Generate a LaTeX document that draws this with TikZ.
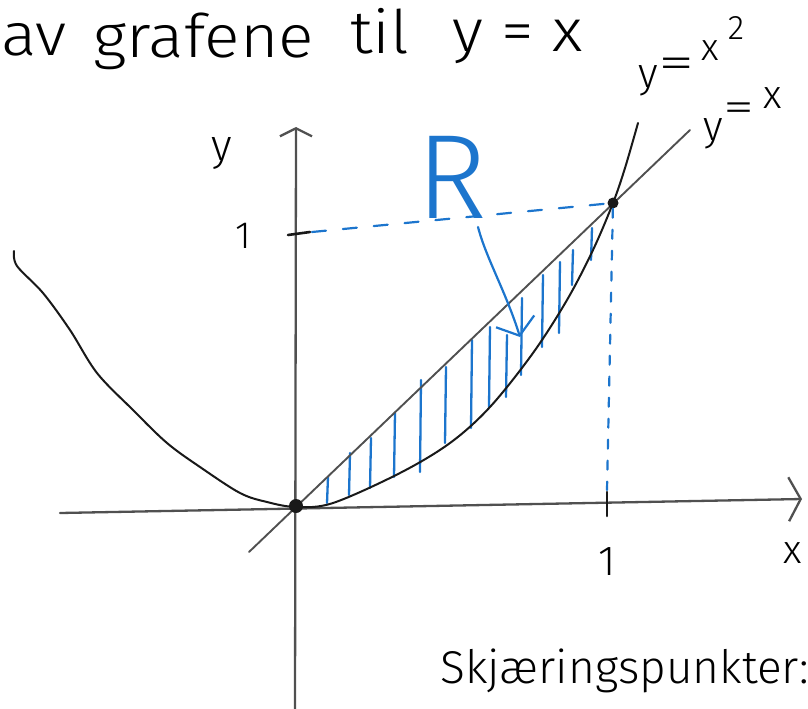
\documentclass[tikz,border=0pt]{standalone}
\usepackage{fontspec}
\newfontfamily\hand{Fira Sans Light}
\usetikzlibrary{arrows.meta}
\definecolor{pen}{RGB}{28,117,205}
\definecolor{ink}{RGB}{25,25,25}
\definecolor{axisgray}{RGB}{80,80,80}
\begin{document}
\begin{tikzpicture}[x=1pt,y=-1pt,
  lbl/.style={font={\hand\fontsize{#1}{#1}\selectfont}, inner sep=0pt},
  axisline/.style={draw=axisgray, line width=2.3pt, line cap=round},
  curve/.style={draw=ink, line width=2pt, line cap=round, line join=round},
  penline/.style={draw=pen, line width=2.2pt, line cap=round},
  pendash/.style={penline, dash pattern=on 14pt off 17pt},
  pendashv/.style={penline, dash pattern=on 9pt off 12pt},
  hatch/.style={draw=pen, line width=2.3pt, line cap=round},
  dot/.style={circle, fill=ink, inner sep=0pt, minimum size=#1}]
\useasboundingbox (0,0) rectangle (808,709);
\clip (0,0) rectangle (808,709);

% axes
\coordinate (xl) at (60,513);
\coordinate (xr) at (802,499);
\coordinate (yb) at (295,712);
\coordinate (yt) at (296,127);
\draw[axisline, -{Straight Barb[length=12pt,width=44pt,line width=2.3pt]}] (xl) -- (xr);
\draw[axisline, -{Straight Barb[length=8pt,width=32pt,line width=2.3pt]}] (yb) -- (yt);

% ticks
\coordinate (ty1) at (288,235);
\coordinate (ty2) at (310,232);
\coordinate (tx1) at (607,492);
\coordinate (tx2) at (607,516);
\draw[curve, line width=2.6pt] (ty1) -- (ty2);
\draw[curve, line width=2.6pt] (tx1) -- (tx2);

% hatch (region R)
\foreach \hx/\ha/\hb in {328/477/503, 350/453/495, 371/438/488, 395/413/477,
  421/380/472, 446/367/443, 472/340/428, 490/327/407, 507/335/397,
  522/298/375, 543/275/347, 560/262/333, 573/250/285, 592/228/260}
  \draw[hatch] (\hx,\ha) -- (\hx-1,\hb);

% line y = x
\coordinate (L1) at (249,552);
\coordinate (L2) at (690,130);
\draw[draw=axisgray, line width=1.9pt, line cap=round] (L1) -- (L2);

% parabola y = x^2
\draw[curve] plot[smooth, tension=0.55] coordinates {
  (14,251) (17,266) (43,293) (70,330) (97,373) (133,410) (167,443) (200,467)
  (240,493) (267,502) (296,507) (333,503) (400,473) (450,443) (490,407)
  (533,353) (567,300) (593,250) (613,203) (625,168) (638,123)};

% points
\node[dot=14pt] (O) at (296,506) {};
\node[dot=11pt] (P) at (613,203) {};

% dashed guides
\coordinate (D1) at (312,232);
\coordinate (D2) at (607,490);
\draw[pendash] (D1) -- (P);
\draw[pendashv] (P) -- (D2);

% labels on axes
\node[lbl=44, anchor=base] (ylab) at (222,160) {y};
\node[lbl=38, anchor=base] (one1) at (243,248) {1};
\node[lbl=42, anchor=base] (one2) at (607,575) {1};
\node[lbl=40, anchor=base] (xlab) at (793,563) {x};

% R and its arrow
\node[lbl=120, text=pen, anchor=center] (R) at (452,177) {R};
\coordinate (Rs) at (478,227);
\coordinate (Rt) at (520,337);
\draw[penline, -{Straight Barb[length=15pt,width=40pt,line width=2.2pt]}]
  (Rs) .. controls (486,258) and (506,292) .. (Rt);

% curve labels (handwritten along a slope)
\node[lbl=42, anchor=base] (pa) at (648,88) {y};
\node[lbl=46, xscale=1.6] (pb) at (677,68) {=};
\node[lbl=38, anchor=base] (pc) at (710,60) {x};
\node[lbl=34] (pd) at (736,28) {2};
\node[lbl=42, anchor=base] (la) at (713,140) {y};
\node[lbl=42, xscale=1.5] (lb) at (739,112) {=};
\node[lbl=40, anchor=base] (lc) at (773,108) {x};

% top text
\node[lbl=60, xscale=1.1, anchor=base west] (w1) at (1,56) {av};
\node[lbl=60, xscale=1.1, anchor=base west] (w2) at (93,57) {grafene};
\node[lbl=60, xscale=1.1, anchor=base west] (w3) at (350,53) {til};
\node[lbl=60, xscale=1.1, anchor=base west] (w4) at (452,52) {y = x};

% bottom text
\node[lbl=46, anchor=base west] (bt) at (440,683) {Skjæringspunkter:};
\end{tikzpicture}
\end{document}
